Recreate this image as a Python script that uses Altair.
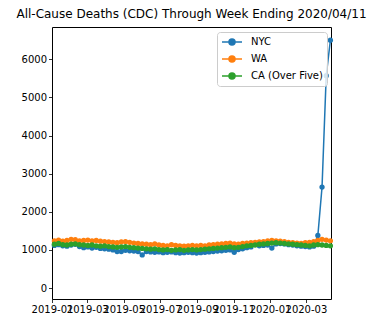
import altair as alt
import pandas as pd

# weekly dates (week ending), 2019-01-05 .. 2020-04-11
dates = pd.date_range("2019-01-05", periods=67, freq="7D").strftime("%Y-%m-%d").tolist()

nyc = [1120, 1140, 1110, 1100, 1130, 1150, 1090, 1060, 1080, 1050, 1070, 1040, 1030,
       1020, 1000, 960, 960, 990, 980, 970, 960, 870,
       960, 950, 940, 950, 930, 940, 950, 930, 920, 930, 940, 930, 920,
       930, 940, 950, 960, 970, 980, 990, 1000, 940, 1010, 1030, 1060, 1080,
       1170, 1110, 1120, 1130, 1050, 1160, 1170, 1160, 1140, 1130, 1110, 1100,
       1090, 1080, 1100, 1380, 2650, 5570, 6500]
wa = [1240, 1260, 1230, 1250, 1280, 1270, 1240, 1250, 1260, 1240, 1250, 1230, 1220,
      1210, 1200, 1190, 1210, 1220, 1200, 1180, 1170, 1160,
      1150, 1140, 1160, 1130, 1120, 1110, 1140, 1120, 1110, 1100, 1110, 1120, 1110,
      1120, 1110, 1130, 1140, 1150, 1160, 1170, 1180, 1160, 1150, 1170, 1180, 1190,
      1200, 1210, 1220, 1240, 1250, 1240, 1230, 1220, 1200, 1190, 1180, 1170,
      1190, 1200, 1220, 1250, 1280, 1260, 1240]
ca = [1150, 1170, 1140, 1130, 1150, 1160, 1140, 1130, 1120, 1130, 1110, 1100, 1110,
      1090, 1080, 1070, 1080, 1090, 1070, 1060, 1050, 1040,
      1030, 1020, 1030, 1010, 1000, 1010, 990, 1000, 1010, 990, 1000, 1010, 1000,
      1010, 1020, 1030, 1040, 1050, 1060, 1070, 1080, 1060, 1070, 1090, 1110, 1120,
      1130, 1150, 1160, 1170, 1180, 1190, 1180, 1170, 1160, 1150, 1140, 1130,
      1120, 1110, 1130, 1140, 1130, 1120, 1110]

series = ["NYC", "WA", "CA (Over Five)"]
colors = ["#1f77b4", "#ff7f0e", "#2ca02c"]
y_ticks = [0, 1000, 2000, 3000, 4000, 5000, 6000]
x_tick_months = [(2019, 1), (2019, 3), (2019, 5), (2019, 7), (2019, 9), (2019, 11), (2020, 1), (2020, 3)]

rows = []
for name, vals in zip(series, [nyc, wa, ca]):
    for d, v in zip(dates, vals):
        rows.append({"date": d, "deaths": v, "series": name})
df = pd.DataFrame(rows)

FONT = "DejaVu Sans"
color_scale = alt.Scale(domain=series, range=colors)

x_enc = alt.X(
    "date:T",
    scale=alt.Scale(type="utc",
                    domain=[alt.DateTime(year=2019, month=1, date=1, utc=True),
                            alt.DateTime(year=2020, month=4, date=12, utc=True)]),
    axis=alt.Axis(values=[alt.DateTime(year=y, month=m, date=1, utc=True) for y, m in x_tick_months],
                  format="%Y-%m", title=None, labelOverlap=False, labelFlush=False,
                  labelBound=False),
)
y_enc = alt.Y("deaths:Q", scale=alt.Scale(domain=[-285, 6845], nice=False, zero=False),
              axis=alt.Axis(values=y_ticks, title=None, format="d"))

legend = alt.Legend(
    title=None, orient="none", legendX=165, legendY=5,
    symbolType="M-2,0L2,0M-0.6,0A0.6,0.6 0 1,1 0.6,0A0.6,0.6 0 1,1 -0.6,0",
    symbolSize=100, symbolStrokeWidth=1.5, symbolOpacity=1,
    symbolFillColor=alt.ExprRef(expr="scale('color', datum.value)"),
    labelOffset=13, symbolOffset=5, padding=4, rowPadding=5,
    labelFont=FONT, labelFontSize=10, labelColor="#000000",
    fillColor="rgba(255,255,255,0.8)", strokeColor="#cccccc", cornerRadius=3,
)

layers = []
for i, name in enumerate(series):
    layers.append(
        alt.Chart(df)
        .transform_filter(alt.datum.series == name)
        .mark_line(strokeWidth=1.5, clip=False,
                   point=alt.OverlayMarkDef(filled=True, size=28, opacity=1))
        .encode(x=x_enc, y=y_enc,
                color=alt.Color("series:N", scale=color_scale,
                                legend=legend if i == 0 else None))
    )

chart = (
    alt.layer(*layers)
    .properties(
        width=279, height=272,
        autosize=alt.AutoSizeParams(type="none"),
        padding={"left": 52, "top": 27, "right": 50, "bottom": 24},
        title=alt.TitleParams("All-Cause Deaths (CDC) Through Week Ending 2020/04/11",
                              font=FONT, fontSize=12, fontWeight="normal", color="#000000",
                              anchor="middle", offset=6),
    )
    .configure_view(stroke="#000000", strokeWidth=1)
    .configure_axis(
        domain=False, grid=False, labelFont=FONT, labelFontSize=10, labelColor="#000000",
        tickColor="#000000", tickSize=3.5, tickWidth=0.8, labelPadding=2,
    )
)

chart.save("out.html", embed_options={"renderer": "svg", "actions": False})
